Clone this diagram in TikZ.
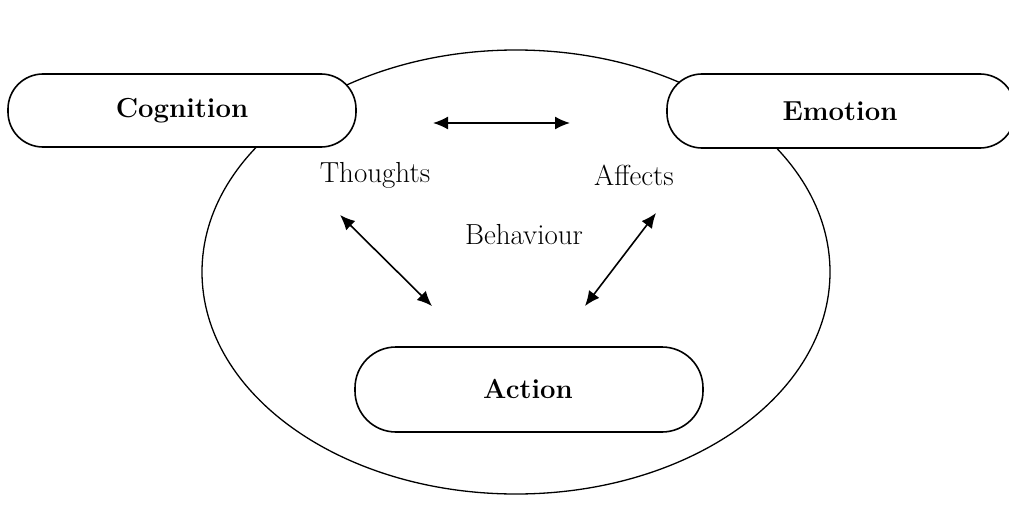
\documentclass[tikz,border=0pt]{standalone}
\usetikzlibrary{arrows.meta}
\begin{document}
\begin{tikzpicture}[x=1pt,y=-1pt,
  pill/.style={draw=black,line width=1.6pt,fill=white,rounded corners=35pt},
  boldlbl/.style={font=\fontsize{27.5}{32}\selectfont\bfseries},
  plainlbl/.style={font=\fontsize{29}{34}\selectfont},
  biarrow/.style={line width=1.6pt,{Latex[length=15pt,width=13pt]}-{Latex[length=15pt,width=13pt]}}]
\useasboundingbox (0,0) rectangle (1009,527);
\clip (0,0) rectangle (1009,527);
\draw[line width=1.3pt] (516,272) ellipse [x radius=314, y radius=222];
\draw[pill] (8,74) rectangle (356,147);
\draw[pill] (667,74) rectangle (1015,148);
\draw[pill,rounded corners=41pt] (355,347) rectangle (703,432);
\node[boldlbl] (cog) at (182,111) {Cognition};
\node[boldlbl] (emo) at (840,111) {Emotion};
\node[boldlbl] (act) at (528,389) {Action};
\node[plainlbl] (tho) at (375,175) {Thoughts};
\node[plainlbl] (aff) at (634,175) {Affects};
\node[plainlbl] (beh) at (524,235) {Behaviour};
\coordinate (h1) at (433,123);
\coordinate (h2) at (570,123);
\coordinate (l1) at (340,215);
\coordinate (l2) at (432,306);
\coordinate (r1) at (656,213);
\coordinate (r2) at (585,306);
\draw[biarrow] (h1) -- (h2);
\draw[biarrow] (l1) -- (l2);
\draw[biarrow] (r1) -- (r2);
\end{tikzpicture}
\end{document}
